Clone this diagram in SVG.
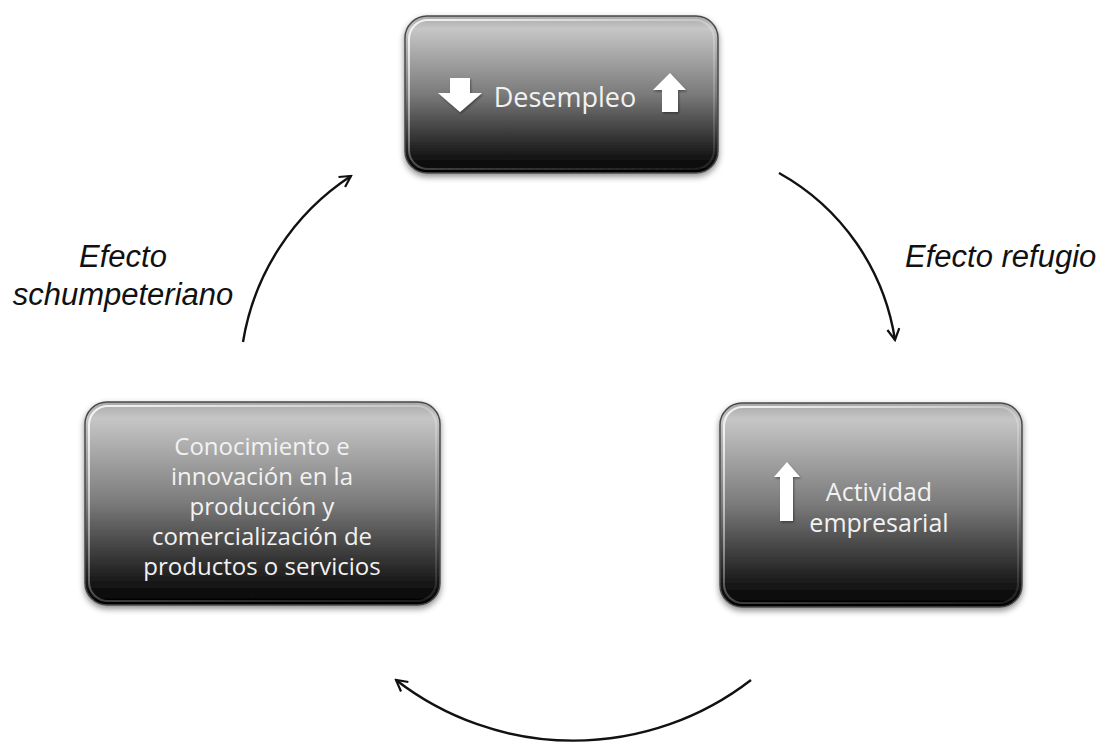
<svg xmlns="http://www.w3.org/2000/svg" width="1107" height="743" viewBox="0 0 1107 743">
<style>
.box{fill:url(#boxGrad);stroke:#4a4a4a;stroke-width:1.5}
.bevel{fill:none;stroke:url(#bevelGrad);stroke-width:2}
.btxt{font-family:"Open Sans","Noto Sans",sans-serif;fill:#f2f2f2;text-anchor:middle}
.ico{fill:#ffffff}
.lbl{font-family:"Liberation Sans",Arial,sans-serif;font-style:italic;font-size:31px;fill:#111}
.arc{fill:none;stroke:#111;stroke-width:2.4;marker-end:url(#head)}
</style>
<defs>
<linearGradient id="boxGrad" x1="0" y1="0" x2="0" y2="1">
<stop offset="0" stop-color="#a8a8a8"/>
<stop offset="0.08" stop-color="#c6c6c6"/>
<stop offset="0.5" stop-color="#7a7a7a"/>
<stop offset="0.9" stop-color="#151515"/>
<stop offset="1" stop-color="#000000"/>
</linearGradient>
<linearGradient id="bevelGrad" x1="0" y1="0" x2="1" y2="1">
<stop offset="0" stop-color="#ffffff" stop-opacity="0.85"/>
<stop offset="0.5" stop-color="#ffffff" stop-opacity="0.25"/>
<stop offset="1" stop-color="#ffffff" stop-opacity="0.1"/>
</linearGradient>
<filter id="shadow" x="-10%" y="-10%" width="120%" height="125%">
<feDropShadow dx="0" dy="3" stdDeviation="3" flood-color="#000" flood-opacity="0.45"/>
</filter>
<filter id="icoShadow" x="-30%" y="-30%" width="160%" height="160%">
<feDropShadow dx="1" dy="1.5" stdDeviation="1" flood-color="#000" flood-opacity="0.4"/>
</filter>
<marker id="head" viewBox="-13 -8 15 16" refX="0" refY="0" markerWidth="15" markerHeight="16" markerUnits="userSpaceOnUse" orient="auto">
<path d="M -11 -6 L 0 0 L -11 6" fill="none" stroke="#111" stroke-width="2.2" stroke-linejoin="miter"/>
</marker>
</defs>
<rect width="1107" height="743" fill="#ffffff"/>

<g id="connectors">
<path class="arc" d="M 779 173 A 231 231 0 0 1 895 340"/>
<path class="arc" d="M 751 680 A 290 290 0 0 1 396 680"/>
<path class="arc" d="M 243 342 A 245 245 0 0 1 351 176"/>
</g>

<g id="node-desempleo">
<rect class="box" x="405" y="16" width="313" height="157" rx="22" filter="url(#shadow)"/>
<rect class="bevel" x="409" y="20" width="305" height="149" rx="19"/>
<polygon class="ico" filter="url(#icoShadow)" points="450,78 470,78 470,93 482,93 460,112 438,93 450,93"/>
<text class="btxt" x="565" y="107" font-size="27">Desempleo</text>
<polygon class="ico" filter="url(#icoShadow)" points="670,73 686,90 678,90 678,112 662,112 662,90 653,90"/>
</g>

<g id="node-actividad">
<rect class="box" x="720" y="403" width="302" height="204" rx="22" filter="url(#shadow)"/>
<rect class="bevel" x="724" y="407" width="294" height="196" rx="19"/>
<polygon class="ico" filter="url(#icoShadow)" points="787,462 800,477 793,477 793,521 780,521 780,477 774,477"/>
<text class="btxt" x="879" y="501" font-size="25"><tspan x="879">Actividad</tspan><tspan x="879" dy="31">empresarial</tspan></text>
</g>

<g id="node-conocimiento">
<rect class="box" x="85" y="402" width="355" height="203" rx="22" filter="url(#shadow)"/>
<rect class="bevel" x="89" y="406" width="347" height="195" rx="19"/>
<text class="btxt" x="262" y="455" font-size="24"><tspan x="262">Conocimiento e</tspan><tspan x="262" dy="30">innovación en la</tspan><tspan x="262" dy="30">producción y</tspan><tspan x="262" dy="30">comercialización de</tspan><tspan x="262" dy="30">productos o servicios</tspan></text>
</g>

<g id="labels">
<text class="lbl" x="905" y="267">Efecto refugio</text>
<text class="lbl" x="123" y="267" text-anchor="middle"><tspan x="123">Efecto</tspan><tspan x="123" dy="38">schumpeteriano</tspan></text>
</g>
</svg>
